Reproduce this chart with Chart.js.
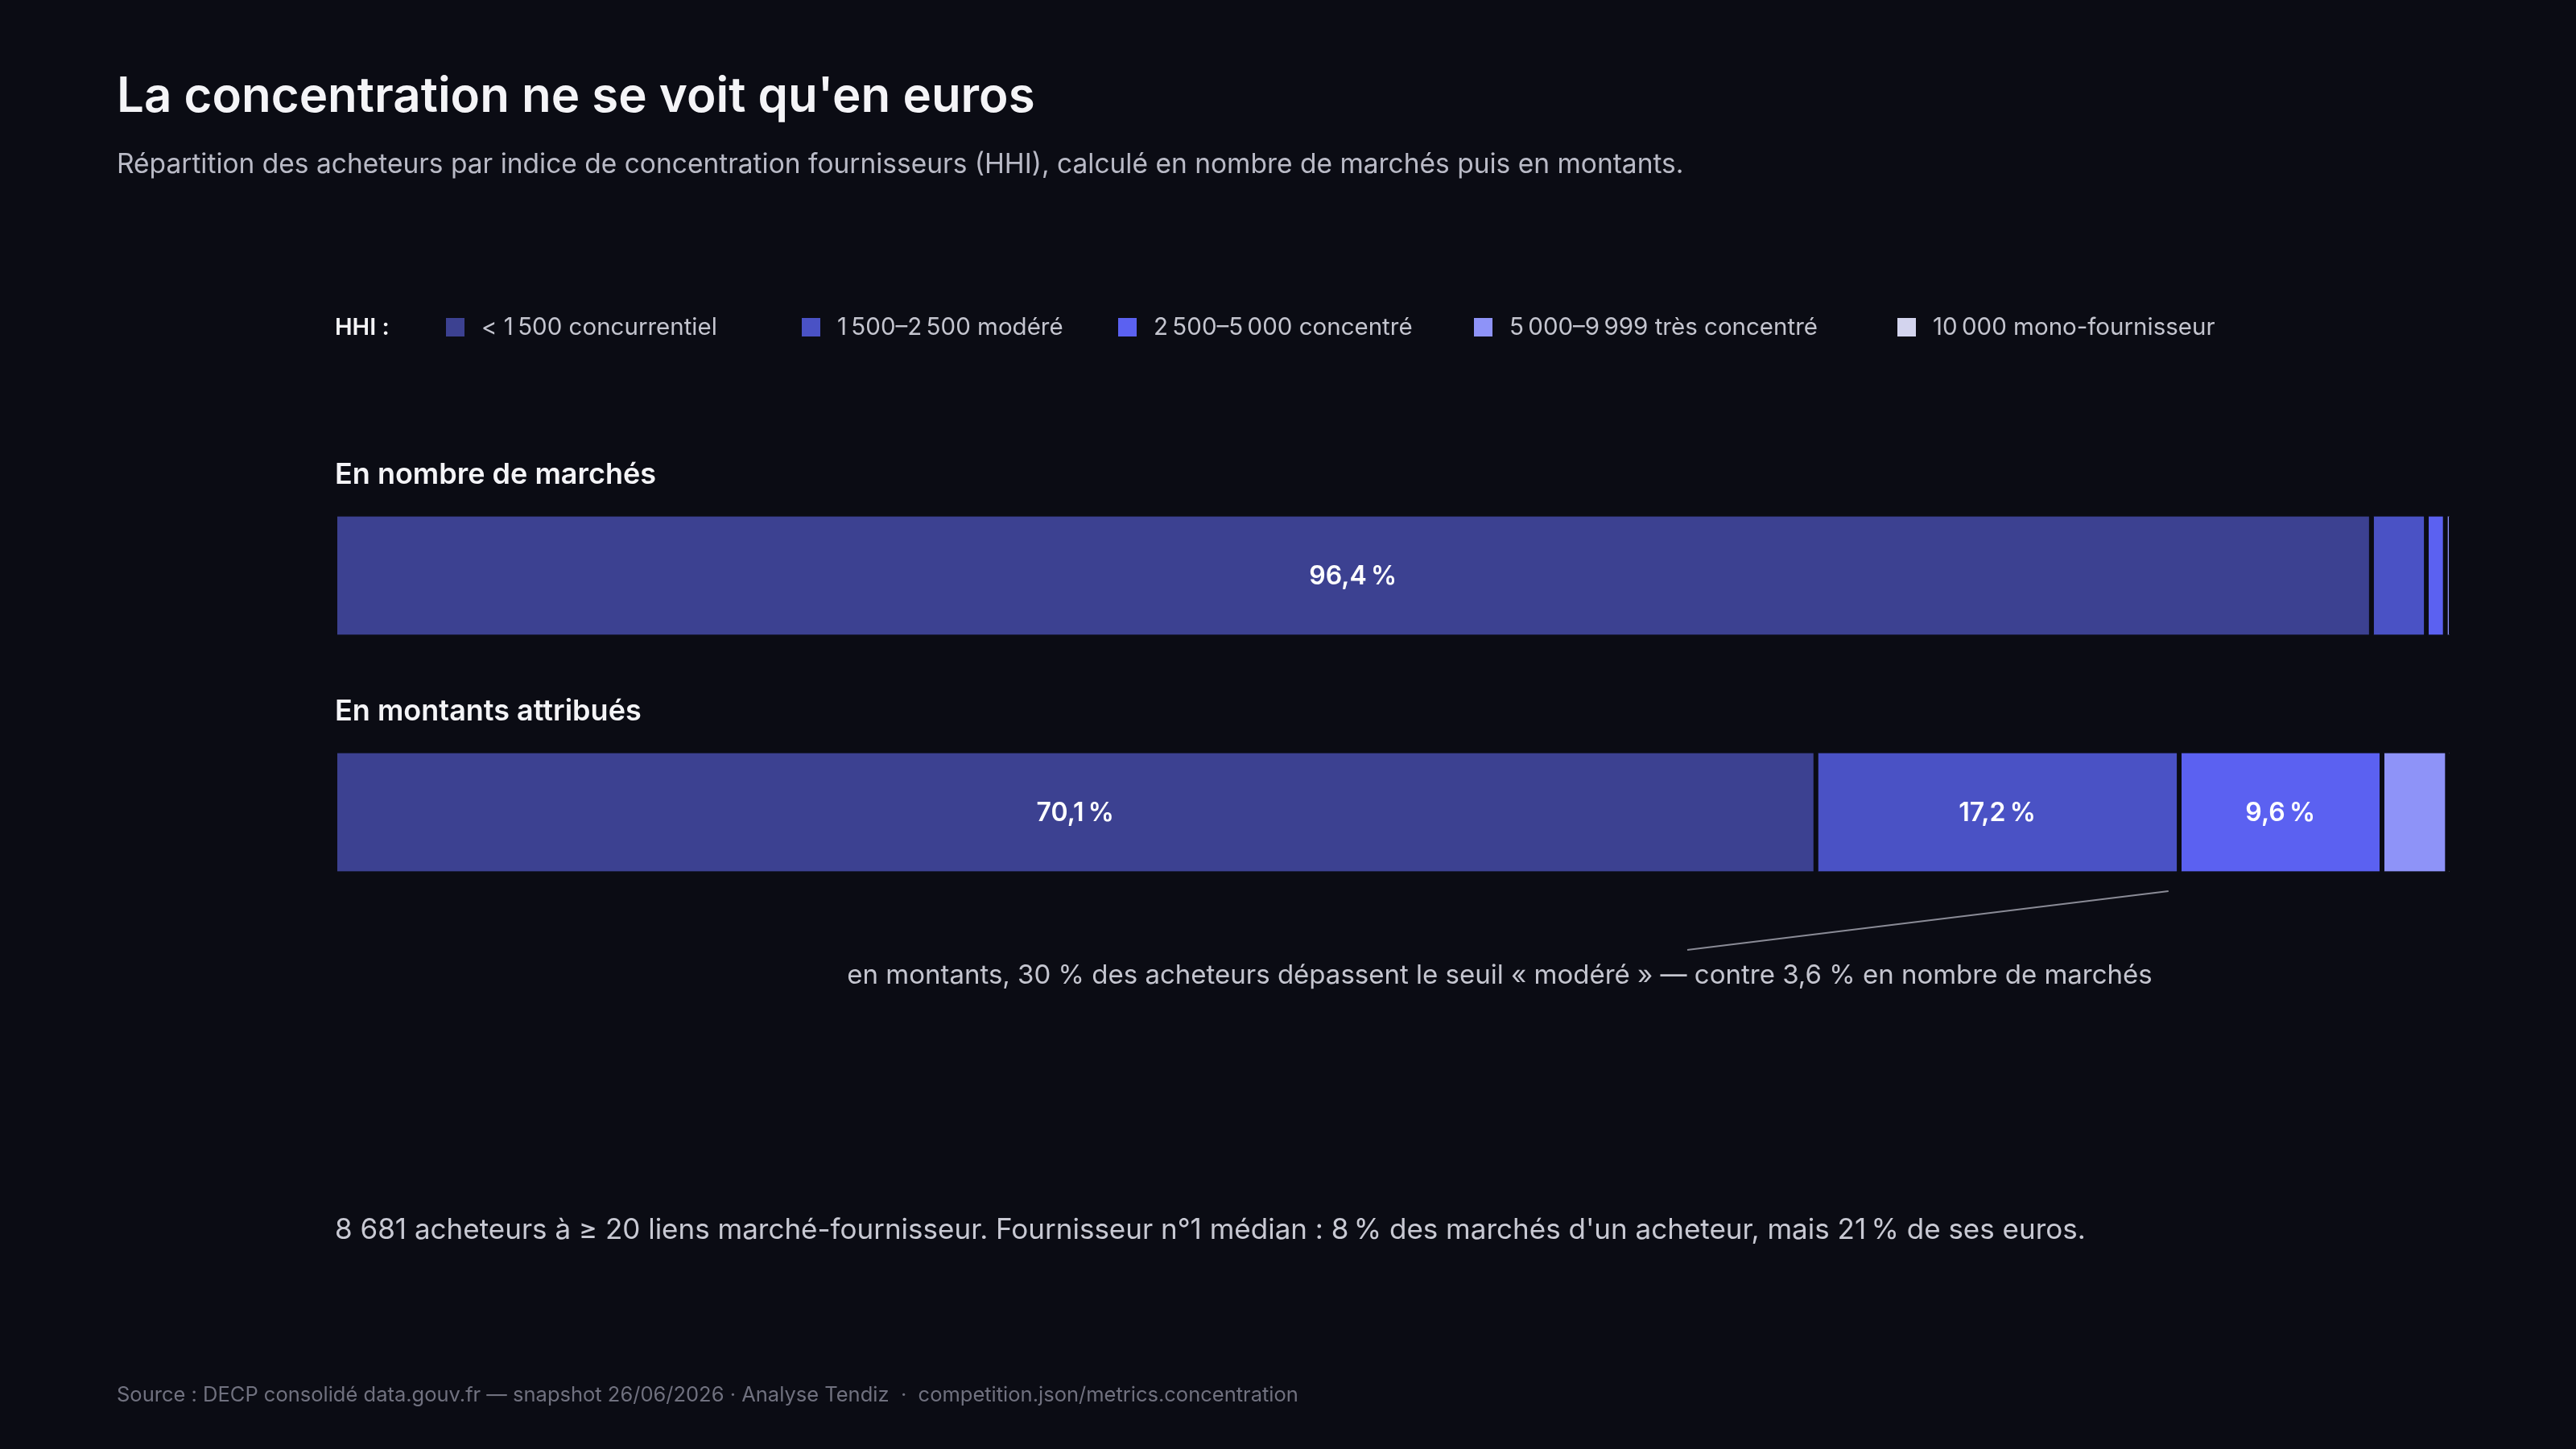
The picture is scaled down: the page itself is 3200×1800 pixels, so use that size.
<!DOCTYPE html>
<html lang="fr">
<head>
<meta charset="utf-8">
<title>La concentration ne se voit qu'en euros</title>
<script src="https://cdn.jsdelivr.net/npm/chart.js@4.4.1/dist/chart.umd.min.js"></script>
<style>
  html, body { margin: 0; padding: 0; background: #0b0c14; }
  canvas { display: block; }
</style>
</head>
<body>
<canvas id="hhiChart" width="3200" height="1800"></canvas>
<script>
// ---- data (share of buyers, %) ----
const rowLabels = ['En nombre de marchés', 'En montants attribués'];
const hhiClasses = ['< 1500 concurrentiel', '1500–2500 modéré', '2500–5000 concentré', '5000–9999 très concentré', '10000 mono-fournisseur'];
const shareConcurrentiel = [96.4, 70.1];
const shareModere = [2.6, 17.2];
const shareConcentre = [0.9, 9.6];
const shareTresConcentre = [0.1, 3.1];
const shareMono = [0.0, 0.0];

const BG = '#0b0c14';
const FONT = 'Inter, Lato, "DejaVu Sans", sans-serif';
const hhiColors = ['#3c4191', '#4a52c5', '#5b61f1', '#8e93f8', '#d3d4ee'];
const series = [shareConcurrentiel, shareModere, shareConcentre, shareTresConcentre, shareMono];
const GAP = 6; // dark separator drawn as right border of each segment

const fmtPct = v => v.toFixed(1).replace('.', ',') + '\u202F%';

// all static text + legend + in-bar labels + annotation
const textPlugin = {
  id: 'textLayer',
  afterDatasetsDraw(chart) {
    const ctx = chart.ctx;
    ctx.save();
    ctx.textBaseline = 'alphabetic';

    // title / subtitle
    ctx.fillStyle = '#f4f4f7';
    ctx.font = '600 60px ' + FONT;
    ctx.fillText("La concentration ne se voit qu'en euros", 145, 139);
    ctx.fillStyle = '#b9bac6';
    ctx.font = '400 33.5px ' + FONT;
    ctx.fillText('Répartition des acheteurs par indice de concentration fournisseurs (HHI), calculé en nombre de marchés puis en montants.', 145, 215);

    // legend
    ctx.fillStyle = '#f4f4f7';
    ctx.font = '600 29px ' + FONT;
    ctx.fillText('HHI :', 416, 416);
    const legX = [554, 996, 1389, 1831, 2357];
    ctx.font = '400 29.5px ' + FONT;
    hhiClasses.forEach((c, i) => {
      ctx.fillStyle = hhiColors[i];
      ctx.fillRect(legX[i], 395, 23, 23);
      ctx.fillStyle = '#c4c5cf';
      ctx.fillText(c.replace(/(\d)(\d{3})(?!\d)/g, '$1\u2009$2'), legX[i] + 44, 416);
    });

    // row titles above each bar
    const yScale = chart.scales.y;
    ctx.fillStyle = '#f4f4f7';
    ctx.font = '600 36px ' + FONT;
    rowLabels.forEach((r, i) => {
      ctx.fillText(r, 416, yScale.getPixelForValue(i) - 114);
    });

    // values inside segments
    ctx.font = '600 32px ' + FONT;
    ctx.fillStyle = '#ffffff';
    ctx.textAlign = 'center';
    ctx.textBaseline = 'middle';
    chart.data.datasets.forEach((ds, di) => {
      chart.getDatasetMeta(di).data.forEach((el, i) => {
        const v = ds.data[i];
        if (v < 5) return;
        ctx.fillText(fmtPct(v), (el.base + el.x - GAP) / 2, el.y + 1);
      });
    });

    // annotation under the amounts bar
    const xScale = chart.scales.x;
    const cut = shareConcurrentiel[1] + shareModere[1];
    const barBottom = yScale.getPixelForValue(1) + 73;
    ctx.strokeStyle = '#8a8b96';
    ctx.lineWidth = 2;
    ctx.beginPath();
    ctx.moveTo(2096, 1180);
    ctx.lineTo(xScale.getPixelForValue(cut) - 16, barBottom + 25);
    ctx.stroke();

    ctx.textBaseline = 'alphabetic';
    ctx.fillStyle = '#c4c5cf';
    ctx.font = '400 33px ' + FONT;
    ctx.fillText('en montants, 30 % des acheteurs dépassent le seuil « modéré » — contre 3,6 % en nombre de marchés', 1863, 1222);

    // note + source
    ctx.textAlign = 'left';
    ctx.fillStyle = '#c8c9d3';
    ctx.font = '400 35px ' + FONT;
    ctx.fillText("8 681 acheteurs à ≥ 20 liens marché-fournisseur. Fournisseur n°1 médian : 8\u202F% des marchés d'un acheteur, mais 21\u202F% de ses euros.", 416, 1539);
    ctx.fillStyle = '#70717f';
    ctx.font = '400 25.5px ' + FONT;
    ctx.fillText('Source : DECP consolidé data.gouv.fr — snapshot 26/06/2026 · Analyse Tendiz  ·  competition.json/metrics.concentration', 145, 1741);

    ctx.restore();
  }
};

new Chart(document.getElementById('hhiChart'), {
  type: 'bar',
  data: {
    labels: rowLabels,
    datasets: hhiClasses.map((c, i) => ({
      label: c,
      data: series[i],
      backgroundColor: hhiColors[i],
      borderColor: BG,
      borderWidth: { top: 0, left: 0, bottom: 0, right: GAP },
      borderSkipped: false,
      barThickness: 147
    }))
  },
  options: {
    indexAxis: 'y',
    responsive: false,
    devicePixelRatio: 1,
    animation: false,
    layout: { padding: { left: 419, right: 157, top: 568, bottom: 644 } },
    scales: {
      x: { stacked: true, min: 0, max: 100, display: false },
      y: { stacked: true, display: false }
    },
    plugins: {
      legend: { display: false },
      tooltip: { enabled: false }
    }
  },
  plugins: [textPlugin]
});
</script>
</body>
</html>
